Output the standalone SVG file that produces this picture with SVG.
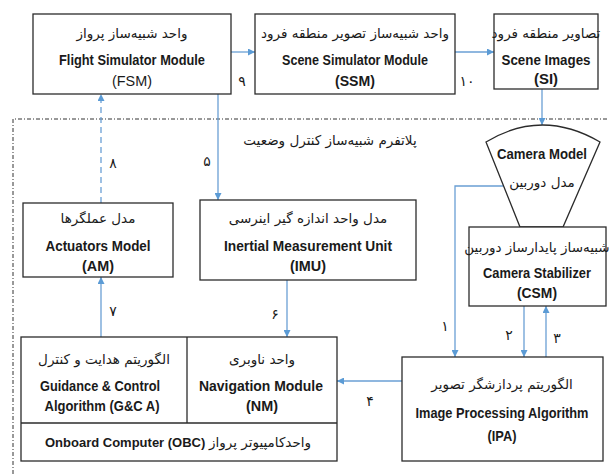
<svg xmlns="http://www.w3.org/2000/svg" width="609" height="474" viewBox="0 0 609 474">
<style>
.box{fill:#fff;stroke:#2b2b2b;stroke-width:1.3}
.en{font-family:"Liberation Sans",Arial,sans-serif;font-size:15px;fill:#1a1a1a;text-anchor:middle}
.b{font-weight:bold}
.fa{font-family:"DejaVu Sans",sans-serif;font-size:13.5px;fill:#1a1a1a;text-anchor:middle}
.num{font-family:"DejaVu Sans",sans-serif;font-size:14px;fill:#1a1a1a;text-anchor:middle}
.con{fill:none;stroke:#6a9fd4;stroke-width:1.3}
.dash{stroke-dasharray:6 4}
.plat{fill:none;stroke:#333;stroke-width:1;stroke-dasharray:4 2 1 2}
</style>
<defs>
<marker id="ah" viewBox="0 0 10 10" refX="10" refY="5" markerWidth="7" markerHeight="7" markerUnits="userSpaceOnUse" orient="auto">
<path d="M0,0 L10,5 L0,10 Z" fill="#5b9bd5"/>
</marker>
</defs>
<g id="platform">
<path class="plat" d="M13,474 L13,119 L609,119"/>
<text class="fa" x="330" y="145">پلاتفرم شبیه‌ساز کنترل وضعیت</text>
</g>
<g id="connectors">
<line class="con" x1="231" y1="52" x2="255" y2="52" marker-end="url(#ah)"/>
<line class="con" x1="455" y1="52" x2="494" y2="52" marker-end="url(#ah)"/>
<line class="con" x1="542" y1="89" x2="542" y2="125" marker-end="url(#ah)"/>
<line class="con dash" x1="101" y1="203" x2="101" y2="94" marker-end="url(#ah)"/>
<line class="con" x1="218" y1="94" x2="218" y2="200" marker-end="url(#ah)"/>
<line class="con" x1="287" y1="280" x2="287" y2="337" marker-end="url(#ah)"/>
<line class="con" x1="101" y1="337" x2="101" y2="277" marker-end="url(#ah)"/>
<polyline class="con" points="503,186 455,186 455,357" marker-end="url(#ah)"/>
<line class="con" x1="524" y1="306" x2="524" y2="357" marker-end="url(#ah)"/>
<line class="con" x1="546" y1="357" x2="546" y2="306" marker-end="url(#ah)"/>
<line class="con" x1="402" y1="381" x2="337" y2="381" marker-end="url(#ah)"/>
<text class="num" x="242" y="86">۹</text>
<text class="num" x="467" y="86">۱۰</text>
<text class="num" x="113" y="168">۸</text>
<text class="num" x="207" y="166">۵</text>
<text class="num" x="275" y="319">۶</text>
<text class="num" x="113" y="316">۷</text>
<text class="num" x="445" y="331">۱</text>
<text class="num" x="509" y="340">۲</text>
<text class="num" x="557" y="343">۳</text>
<text class="num" x="370" y="406">۴</text>
</g>
<g id="fsm">
<rect class="box" x="33" y="14" width="198" height="80"/>
<text class="fa" x="132" y="38">واحد شبیه‌ساز پرواز</text>
<text class="en b" x="132" y="65" textLength="146" lengthAdjust="spacingAndGlyphs">Flight Simulator Module</text>
<text class="en" x="132" y="86" textLength="40" lengthAdjust="spacingAndGlyphs">(FSM)</text>
</g>
<g id="ssm">
<rect class="box" x="255" y="14" width="200" height="80"/>
<text class="fa" x="355" y="38">واحد شبیه‌ساز تصویر منطقه فرود</text>
<text class="en b" x="355" y="65" textLength="146" lengthAdjust="spacingAndGlyphs">Scene Simulator Module</text>
<text class="en b" x="355" y="86" textLength="40" lengthAdjust="spacingAndGlyphs">(SSM)</text>
</g>
<g id="si">
<rect class="box" x="494" y="14" width="104" height="75"/>
<text class="fa" x="546" y="38">تصاویر منطقه فرود</text>
<text class="en b" x="546" y="65" textLength="89" lengthAdjust="spacingAndGlyphs">Scene Images</text>
<text class="en b" x="546" y="84" textLength="24" lengthAdjust="spacingAndGlyphs">(SI)</text>
</g>
<g id="am">
<rect class="box" x="23" y="203" width="150" height="74"/>
<text class="fa" x="98" y="223">مدل عملگرها</text>
<text class="en b" x="98" y="251" textLength="105" lengthAdjust="spacingAndGlyphs">Actuators Model</text>
<text class="en b" x="98" y="271" textLength="32" lengthAdjust="spacingAndGlyphs">(AM)</text>
</g>
<g id="imu">
<rect class="box" x="200" y="200" width="216" height="80"/>
<text class="fa" x="308" y="223">مدل واحد اندازه گیر اینرسی</text>
<text class="en b" x="308" y="251" textLength="168" lengthAdjust="spacingAndGlyphs">Inertial Measurement Unit</text>
<text class="en b" x="308" y="271" textLength="36" lengthAdjust="spacingAndGlyphs">(IMU)</text>
</g>
<g id="camera-model">
<path class="box" d="M486,142 Q542,108 600,142 L563,227 L520,227 Z"/>
<text class="en b" x="542" y="159" textLength="90" lengthAdjust="spacingAndGlyphs">Camera Model</text>
<text class="fa" x="542" y="187">مدل دوربین</text>
</g>
<g id="csm">
<rect class="box" x="469" y="227" width="137" height="79"/>
<text class="fa" x="537" y="252">شبیه‌ساز پایدارساز دوربین</text>
<text class="en b" x="537" y="278" textLength="108" lengthAdjust="spacingAndGlyphs">Camera Stabilizer</text>
<text class="en b" x="537" y="298" textLength="40" lengthAdjust="spacingAndGlyphs">(CSM)</text>
</g>
<g id="obc">
<rect class="box" x="21" y="337" width="316" height="124"/>
<line x1="21" y1="423" x2="337" y2="423" stroke="#2b2b2b" stroke-width="1.3"/>
<line x1="187" y1="337" x2="187" y2="423" stroke="#2b2b2b" stroke-width="1.3"/>
<text x="45" y="447" font-family="Liberation Sans, Arial, sans-serif" font-size="13" font-weight="bold" fill="#1a1a1a">Onboard Computer (OBC) <tspan font-family="DejaVu Sans, sans-serif" font-weight="normal" font-size="13.5">واحدکامپیوتر پرواز</tspan></text>
</g>
<g id="gca">
<text class="fa" x="104" y="364">الگوریتم هدایت و کنترل</text>
<text class="en b" x="100" y="391" textLength="120" lengthAdjust="spacingAndGlyphs">Guidance &amp; Control</text>
<text class="en b" x="102" y="411" textLength="115" lengthAdjust="spacingAndGlyphs">Algorithm (G&amp;C A)</text>
</g>
<g id="nm">
<text class="fa" x="262" y="364">واحد ناوبری</text>
<text class="en b" x="261" y="391" textLength="124" lengthAdjust="spacingAndGlyphs">Navigation Module</text>
<text class="en b" x="262" y="411" textLength="32" lengthAdjust="spacingAndGlyphs">(NM)</text>
</g>
<g id="ipa">
<rect class="box" x="402" y="357" width="201" height="104"/>
<text class="fa" x="502" y="389">الگوریتم پردازشگر تصویر</text>
<text class="en b" x="502" y="418" font-size="12" textLength="173" lengthAdjust="spacingAndGlyphs">Image Processing Algorithm</text>
<text class="en b" x="502" y="441" textLength="29" lengthAdjust="spacingAndGlyphs">(IPA)</text>
</g>
</svg>
